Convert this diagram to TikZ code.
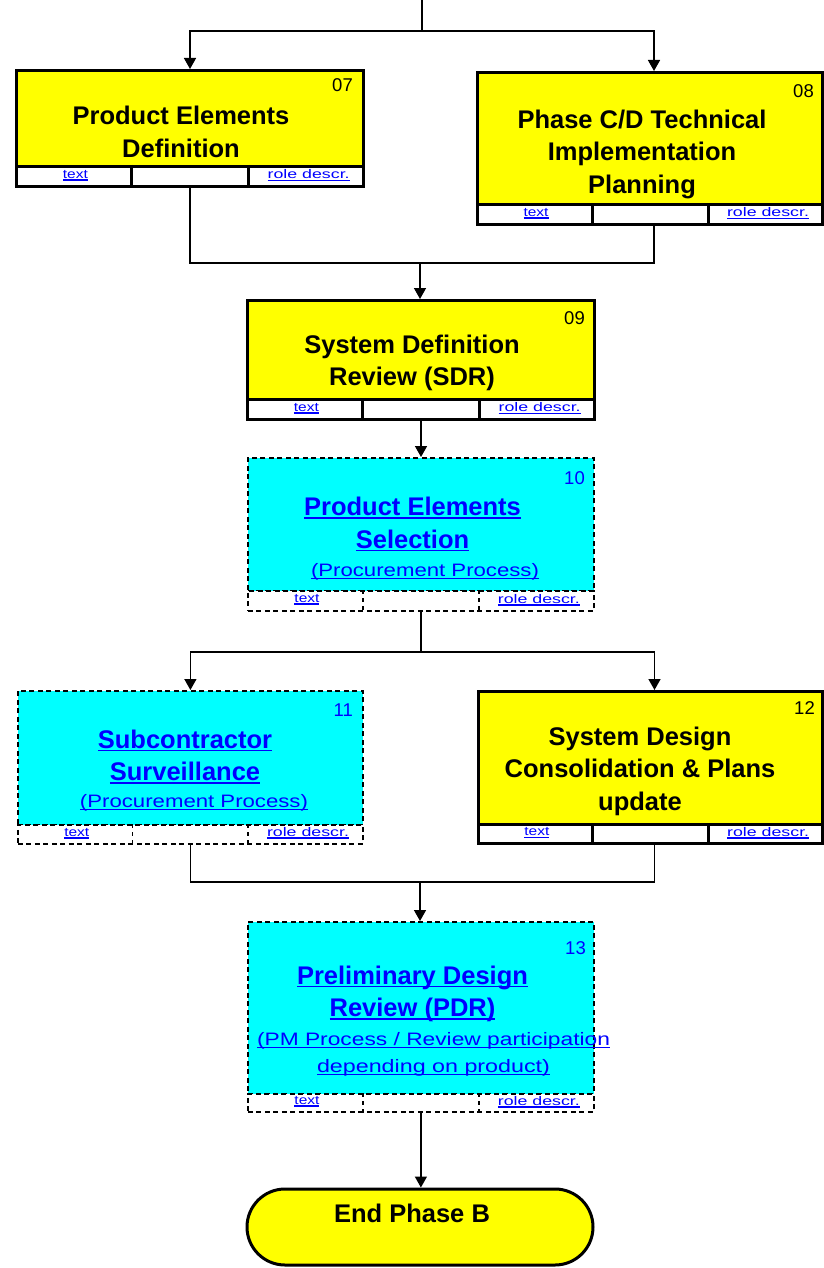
\documentclass[tikz,border=0pt]{standalone}
\usepackage{fontspec}
\setmainfont{Liberation Sans}
\usepackage{graphicx}
\usetikzlibrary{arrows.meta,calc,shapes.misc}
\definecolor{ylw}{RGB}{255,255,0}
\definecolor{cyn}{RGB}{0,255,255}
\definecolor{lnk}{RGB}{0,0,255}
\newsavebox\ulbox
\newcommand\ulin[2][3pt]{\sbox\ulbox{#2}\rlap{\rule[-#1]{\wd\ulbox}{1.6pt}}\usebox\ulbox}
\newcommand\ftext{\ulin[2.2pt]{\resizebox{25pt}{\height}{text}}}
\newcommand\frole{\ulin[2.2pt]{\resizebox{82pt}{\height}{role descr.}}}
\begin{document}
\begin{tikzpicture}[x=1pt,y=-1pt,
  solidbody/.style={draw, fill=ylw, line width=3pt, inner sep=0pt, anchor=north west},
  solidfoot/.style={draw, fill=white, line width=3pt, inner sep=0pt, anchor=north west},
  dashbody/.style={draw, fill=cyn, line width=1.8pt, dash pattern=on 5pt off 3.5pt, inner sep=0pt, anchor=north west},
  dashfoot/.style={draw, fill=white, line width=1.8pt, dash pattern=on 5pt off 3.5pt, inner sep=0pt, anchor=north west},
  soliddiv/.style={line width=3pt},
  dashdiv/.style={line width=1.5pt, dash pattern=on 4pt off 4pt},
  title/.style={align=center, inner sep=0pt, font=\fontsize{25.5}{32.5}\selectfont\bfseries},
  ltitle/.style={title, text=lnk},
  subt/.style={align=center, inner sep=0pt, text=lnk, font=\fontsize{18}{27}\selectfont},
  numb/.style={anchor=east, inner sep=0pt, font=\fontsize{18.5}{20}\selectfont},
  ftxt/.style={inner sep=0pt, text=lnk, font=\fontsize{12.5}{14}\selectfont},
  wire/.style={line width=1.5pt},
  arr/.style={line width=1.5pt, -{Triangle[width=12pt,length=11pt]}},
  endbox/.style={draw, fill=ylw, line width=3pt, rounded rectangle, inner sep=0pt, minimum width=346pt, minimum height=76pt}
]
\fill[white] (0,0) rectangle (823,1268);
\useasboundingbox (0,0) rectangle (823,1268);

% ---------- box 07
\node[solidbody, minimum width=347pt, minimum height=96pt] (b07) at (15,69) {};
\node[solidfoot, minimum width=347pt, minimum height=20pt] (f07) at (15,165) {};
\foreach \p in {1,2} \draw[soliddiv] ($(f07.north west)!\p/3!(f07.north east)$) -- ($(f07.south west)!\p/3!(f07.south east)$);
\node[ftxt] (f07t) at ($(f07.west)!1/6!(f07.east)+(2,-1)$) {\ftext};
\node[ftxt] (f07r) at ($(f07.west)!5/6!(f07.east)+(2,-1)$) {\frole};
\node[title] (t07) at (181,132) {Product Elements\\Definition};
\node[numb] (n07) at (353,85) {07};

% ---------- box 08
\node[solidbody, minimum width=345pt, minimum height=132pt] (b08) at (476,71) {};
\node[solidfoot, minimum width=345pt, minimum height=20pt] (f08) at (476,203) {};
\foreach \p in {1,2} \draw[soliddiv] ($(f08.north west)!\p/3!(f08.north east)$) -- ($(f08.south west)!\p/3!(f08.south east)$);
\node[ftxt] (f08t) at ($(f08.west)!1/6!(f08.east)+(2,-1)$) {\ftext};
\node[ftxt] (f08r) at ($(f08.west)!5/6!(f08.east)+(2,-1)$) {\frole};
\node[title] (t08) at (642,154) {Phase C/D Technical\\Implementation\\Planning};
\node[numb] (n08) at (814,91) {08};

% ---------- box 09
\node[solidbody, minimum width=347pt, minimum height=99pt] (b09) at (246,299) {};
\node[solidfoot, minimum width=347pt, minimum height=20pt] (f09) at (246,398) {};
\foreach \p in {1,2} \draw[soliddiv] ($(f09.north west)!\p/3!(f09.north east)$) -- ($(f09.south west)!\p/3!(f09.south east)$);
\node[ftxt] (f09t) at ($(f09.west)!1/6!(f09.east)+(2,-1)$) {\ftext};
\node[ftxt] (f09r) at ($(f09.west)!5/6!(f09.east)+(2,-1)$) {\frole};
\node[title] (t09) at (412,363) {System Definition\\Review (SDR)};
\node[numb] (n09) at (585,318) {09};

% ---------- box 10
\node[dashbody, minimum width=346pt, minimum height=133pt] (b10) at (247,457) {};
\node[dashfoot, minimum width=346pt, minimum height=20pt] (f10) at (247,590) {};
\foreach \p in {1,2} \draw[dashdiv] ($(f10.north west)!\p/3!(f10.north east)$) -- ($(f10.south west)!\p/3!(f10.south east)$);
\node[ftxt] (f10t) at ($(f10.west)!1/6!(f10.east)+(2,-1)$) {\ftext};
\node[ftxt] (f10r) at ($(f10.west)!5/6!(f10.east)+(2,-1)$) {\frole};
\node[ltitle] (t10) at (412.5,524.5) {\ulin{Product Elements}\\\ulin{Selection}};
\node[subt] (s10) at (425,572) {\ulin[2.5pt]{\resizebox{228pt}{\height}{(Procurement Process)}}};
\node[numb, text=lnk] (n10) at (585,478) {10};

% ---------- box 11
\node[dashbody, minimum width=345pt, minimum height=134pt] (b11) at (17,690) {};
\node[dashfoot, minimum width=345pt, minimum height=19pt] (f11) at (17,824) {};
\foreach \p in {1,2} \draw[dashdiv] ($(f11.north west)!\p/3!(f11.north east)$) -- ($(f11.south west)!\p/3!(f11.south east)$);
\node[ftxt] (f11t) at ($(f11.west)!1/6!(f11.east)+(2,-1)$) {\ftext};
\node[ftxt] (f11r) at ($(f11.west)!5/6!(f11.east)+(2,-1)$) {\frole};
\node[ltitle] (t11) at (185,757) {\ulin{Subcontractor}\\\ulin{Surveillance}};
\node[subt] (s11) at (194,803) {\ulin[2.5pt]{\resizebox{228pt}{\height}{(Procurement Process)}}};
\node[numb, text=lnk] (n11) at (353,710) {11};

% ---------- box 12
\node[solidbody, minimum width=344pt, minimum height=133pt] (b12) at (477,690) {};
\node[solidfoot, minimum width=344pt, minimum height=19pt] (f12) at (477,823) {};
\foreach \p in {1,2} \draw[soliddiv] ($(f12.north west)!\p/3!(f12.north east)$) -- ($(f12.south west)!\p/3!(f12.south east)$);
\node[ftxt] (f12t) at ($(f12.west)!1/6!(f12.east)+(2,-1)$) {\ftext};
\node[ftxt] (f12r) at ($(f12.west)!5/6!(f12.east)+(2,-1)$) {\frole};
\node[title] (t12) at (640,771) {System Design\\Consolidation \& Plans\\update};
\node[numb] (n12) at (815,708) {12};

% ---------- box 13
\node[dashbody, minimum width=346pt, minimum height=172pt] (b13) at (247,921) {};
\node[dashfoot, minimum width=346pt, minimum height=18pt] (f13) at (247,1093) {};
\foreach \p in {1,2} \draw[dashdiv] ($(f13.north west)!\p/3!(f13.north east)$) -- ($(f13.south west)!\p/3!(f13.south east)$);
\node[ftxt] (f13t) at ($(f13.west)!1/6!(f13.east)+(2,-1)$) {\ftext};
\node[ftxt] (f13r) at ($(f13.west)!5/6!(f13.east)+(2,-1)$) {\frole};
\node[ltitle] (t13) at (412.5,994) {\ulin{Preliminary Design}\\\ulin{Review (PDR)}};
\node[subt] (s13) at (433.5,1054.5) {\ulin[2.5pt]{\resizebox{353pt}{\height}{(PM Process / Review participation}}\\\ulin[2.5pt]{\resizebox{233pt}{\height}{depending on product)}}};
\node[numb, text=lnk] (n13) at (586,948) {13};

% ---------- end
\node[endbox] (end) at (420,1227) {};
\node[title] (tend) at (412,1213) {End Phase B};

% ---------- connectors
\coordinate (top) at (422,0);
\coordinate (s0) at (422,31);
\draw[wire] (top) -- (s0);
\draw[arr] (s0) -| (b07.north);
\draw[arr] (s0) -| ([xshift=4pt]b08.north);

\coordinate (j1) at (420,263);
\draw[wire] (f07.south) |- (j1);
\draw[wire] ([xshift=4pt]f08.south) |- (j1);
\draw[arr] (j1) -- (j1 |- b09.north);
\draw[arr] (f09.south) -- (f09.south |- b10.north);

\coordinate (j2) at ($(f10.south)+(0,40)$);
\draw[wire] (f10.south) -- (j2);
\draw[arr] (j2) -| (b11.north);
\draw[arr] (j2) -| ([xshift=4pt]b12.north);

\coordinate (j3) at (420,882);
\draw[wire] (f11.south) |- (j3);
\draw[wire] ([xshift=4pt]f12.south) |- (j3);
\draw[arr] (j3) -- (j3 |- b13.north);
\draw[arr] (f13.south) -- (f13.south |- end.north);
\end{tikzpicture}
\end{document}
